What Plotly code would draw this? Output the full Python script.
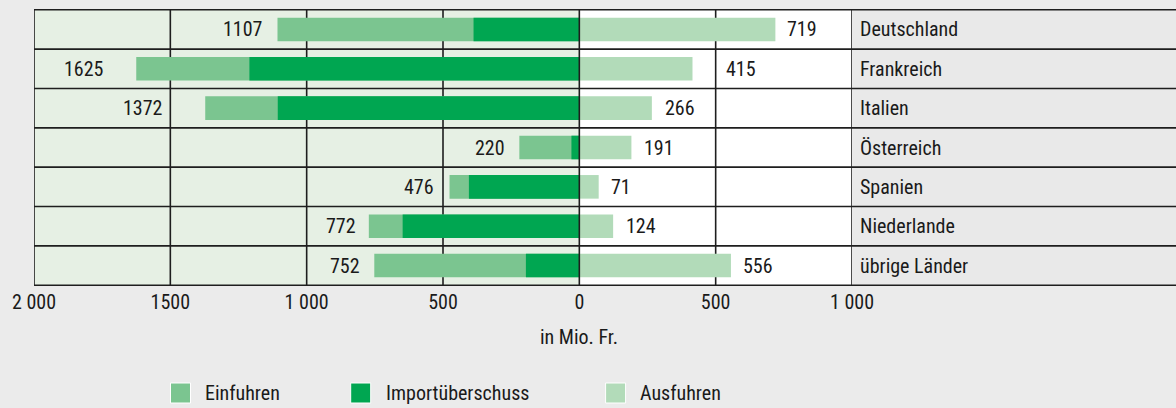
import plotly.graph_objects as go

countries = ["Deutschland", "Frankreich", "Italien", "Österreich", "Spanien", "Niederlande", "übrige Länder"]
einfuhren = [1107, 1625, 1372, 220, 476, 772, 752]
ausfuhren = [719, 415, 266, 191, 71, 124, 556]
tick_vals = [-2000, -1500, -1000, -500, 0, 500, 1000]
tick_text = ["2 000", "1500", "1 000", "500", "0", "500", "1 000"]
legend_names = ["Einfuhren", "Importüberschuss", "Ausfuhren"]

# derived
surplus = [i - a for i, a in zip(einfuhren, ausfuhren)]

# styling
C_EIN = "#7bc590"
C_UEB = "#00a651"
C_AUS = "#b2dbb9"
C_NEG_BG = "#e6f0e4"
C_PAGE = "#ebebeb"
C_LABELCOL = "#e9e9e9"
C_LINE = "#1e1e1e"
C_TEXT = "#1a1a1a"
FONT = "Roboto Condensed, Liberation Sans Narrow, sans-serif"
FS = 20
imp_gap = [12, 30, 40, 12, 14, 11, 12]
exp_gap = [10, 32, 11, 11, 10, 11, 10]

fig = go.Figure()
fig.add_trace(go.Bar(y=countries, x=[-v for v in einfuhren], orientation="h",
                     marker=dict(color=C_EIN, line=dict(width=0)), name=legend_names[0], showlegend=False))
fig.add_trace(go.Bar(y=countries, x=[-v for v in surplus], orientation="h",
                     marker=dict(color=C_UEB, line=dict(width=0)), name=legend_names[1], showlegend=False))
fig.add_trace(go.Bar(y=countries, x=ausfuhren, orientation="h",
                     marker=dict(color=C_AUS, line=dict(width=0)), name=legend_names[2], showlegend=False))

shapes = []
shapes.append(dict(type="rect", xref="x", yref="paper", x0=-2000, x1=0, y0=0, y1=1,
                   fillcolor=C_NEG_BG, line=dict(width=0), layer="below"))
shapes.append(dict(type="rect", xref="paper", yref="paper", x0=1, x1=1.5, y0=0, y1=1,
                   fillcolor=C_LABELCOL, line=dict(width=0), layer="below"))
for v in tick_vals:
    if v == 0:
        continue
    shapes.append(dict(type="line", xref="x", yref="paper", x0=v, x1=v, y0=0, y1=1,
                       line=dict(color=C_LINE, width=1.6), layer="below"))
shapes.append(dict(type="line", xref="x", yref="paper", x0=0, x1=0, y0=0, y1=1,
                   line=dict(color=C_LINE, width=1.6), layer="above"))
n = len(countries)
for k in range(n + 1):
    shapes.append(dict(type="line", xref="paper", yref="y", x0=0, x1=1.5, y0=k - 0.5, y1=k - 0.5,
                       line=dict(color=C_LINE, width=1.6), layer="above"))

annotations = []
for i, c in enumerate(countries):
    annotations.append(dict(x=-einfuhren[i], y=c, xref="x", yref="y", text=str(einfuhren[i]),
                            showarrow=False, xanchor="right", xshift=-imp_gap[i],
                            font=dict(family=FONT, size=FS, color=C_TEXT)))
    annotations.append(dict(x=ausfuhren[i], y=c, xref="x", yref="y", text=str(ausfuhren[i]),
                            showarrow=False, xanchor="left", xshift=exp_gap[i],
                            font=dict(family=FONT, size=FS, color=C_TEXT)))
annotations.append(dict(x=0, y=-0.184, xref="x", yref="paper", text="in Mio. Fr.", showarrow=False,
                        xanchor="center", yanchor="middle", font=dict(family=FONT, size=FS, color=C_TEXT)))

PW = 818.0
PH = 277.0
def px_to_paper_x(px):
    return (px - 34) / PW
def px_to_paper_y(py):
    return (286 - py) / PH
leg_swatch_x = [170.5, 350.7, 605.6]
leg_text_x = [203, 383.5, 638]
leg_colors = [C_EIN, C_UEB, C_AUS]
for k in range(3):
    shapes.append(dict(type="rect", xref="paper", yref="paper",
                       x0=px_to_paper_x(leg_swatch_x[k]), x1=px_to_paper_x(leg_swatch_x[k] + 20),
                       y0=px_to_paper_y(403), y1=px_to_paper_y(383),
                       fillcolor=leg_colors[k], line=dict(color="#ffffff", width=1)))
    annotations.append(dict(x=px_to_paper_x(leg_text_x[k]), y=px_to_paper_y(393), xref="paper", yref="paper",
                            text=legend_names[k], showarrow=False, xanchor="left", yanchor="middle",
                            font=dict(family=FONT, size=FS, color=C_TEXT)))

fig.update_layout(
    width=1176, height=408,
    margin=dict(l=34, r=324, t=9, b=122, pad=0),
    paper_bgcolor=C_PAGE, plot_bgcolor="#ffffff",
    barmode="overlay", bargap=0.4,
    font=dict(family=FONT, size=FS, color=C_TEXT),
    shapes=shapes, annotations=annotations,
    xaxis=dict(range=[-2000, 1000], tickvals=tick_vals, ticktext=tick_text, showgrid=False,
               zeroline=False, showline=False, ticks="", ticklabelstandoff=2,
               tickfont=dict(family=FONT, size=FS, color=C_TEXT), fixedrange=True),
    yaxis=dict(categoryorder="array", categoryarray=countries, autorange="reversed",
               side="right", showgrid=False, zeroline=False, showline=False, ticks="",
               ticklabelstandoff=7, tickfont=dict(family=FONT, size=FS, color=C_TEXT),
               fixedrange=True),
    showlegend=False,
)

fig.write_html("out.html", config={"displayModeBar": False},
               post_script="document.body.style.margin='0';document.body.style.background='#ebebeb';")
